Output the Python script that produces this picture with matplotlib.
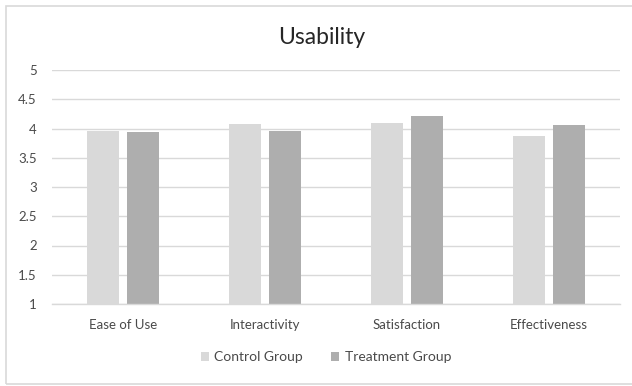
import matplotlib
matplotlib.use("Agg")
import matplotlib.pyplot as plt
from matplotlib.patches import Rectangle
import numpy as np

categories = ["Ease of Use", "Interactivity", "Satisfaction", "Effectiveness"]
control_group = [3.96, 4.07, 4.10, 3.87]
treatment_group = [3.94, 3.96, 4.21, 4.06]
y_ticks = [1, 1.5, 2, 2.5, 3, 3.5, 4, 4.5, 5]
y_tick_labels = ["1", "1.5", "2", "2.5", "3", "3.5", "4", "4.5", "5"]

plt.rcParams["font.family"] = ["Lato", "DejaVu Sans"]
text_color = "#4A4A4A"
grid_color = "#D9D9D9"
control_color = "#D9D9D9"
treatment_color = "#AEAEAE"

fig = plt.figure(figsize=(6.32, 3.86), dpi=100)
ax = fig.add_axes([52 / 632, 1 - 304 / 386, 568 / 632, 234 / 386])

x = np.arange(len(categories))
width = 0.225
offset = 0.141
ax.bar(x - offset, control_group, width, bottom=0, color=control_color,
       label="Control Group", zorder=3)
ax.bar(x + offset, treatment_group, width, bottom=0, color=treatment_color,
       label="Treatment Group", zorder=3)

ax.set_xlim(-0.5, len(categories) - 0.5)
ax.set_ylim(1, 5)
ax.set_yticks(y_ticks)
ax.set_yticklabels(y_tick_labels)
ax.set_xticks(x)
ax.set_xticklabels(categories)
ax.tick_params(axis="both", length=0, colors=text_color, labelsize=9.5)
ax.tick_params(axis="y", pad=11)
ax.tick_params(axis="x", pad=11)

ax.grid(axis="y", color=grid_color, linewidth=1, zorder=0)
for side in ("top", "right", "left"):
    ax.spines[side].set_visible(False)
ax.spines["bottom"].set_color(grid_color)
ax.spines["bottom"].set_linewidth(1)
ax.spines["bottom"].set_zorder(4)

fig.text(322 / 632, 1 - 37 / 386, "Usability", ha="center", va="center",
         fontsize=16.5, color="#262626")

leg = fig.legend(loc="center", bbox_to_anchor=(326 / 632, 1 - 357 / 386),
                 ncol=2, frameon=False, fontsize=10, handlelength=0.6,
                 handleheight=0.6, handletextpad=0.4, columnspacing=2.0)
for t in leg.get_texts():
    t.set_color(text_color)

# chart frame
fig.patches.append(Rectangle((6 / 632, 1 - 383.5 / 386), 640 / 632, 378 / 386,
                             transform=fig.transFigure, fill=False,
                             edgecolor="#D9D9D9", linewidth=1.2))

fig.savefig("out.png", dpi=100)
